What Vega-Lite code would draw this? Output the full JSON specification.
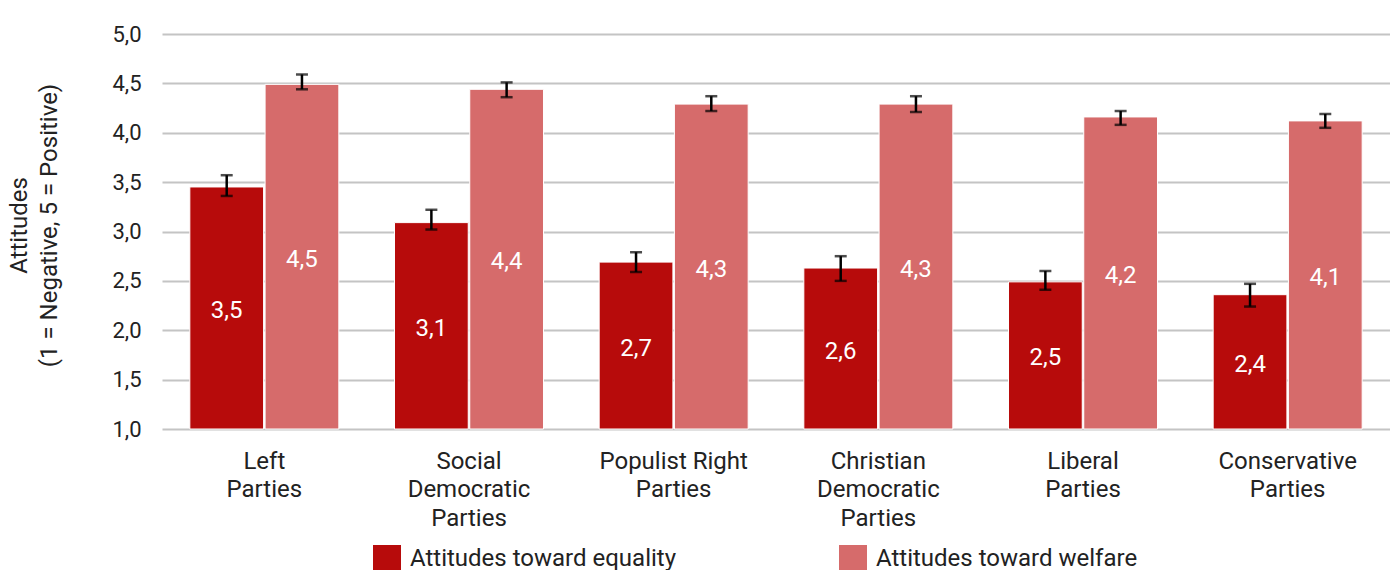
{
  "$schema": "https://vega.github.io/schema/vega-lite/v6.json",
  "width": 1228,
  "height": 395,
  "autosize": {"type": "none"},
  "padding": {"left": 162, "top": 34, "right": 0, "bottom": 141},
  "config": {
    "view": {"stroke": null},
    "font": "Roboto",
    "locale": {"number": {"decimal": ",", "thousands": ".", "grouping": [3], "currency": ["", "€"]}},
    "axis": {"labelFont": "Roboto", "titleFont": "Roboto", "labelColor": "#222", "titleColor": "#222", "titleFontWeight": "normal"},
    "legend": {"labelFont": "Roboto", "labelColor": "#222"}
  },
  "data": {
    "values": [
      {"party": "Left|Parties", "series": "Attitudes toward equality", "value": 3.451, "lo": 3.36, "hi": 3.57},
      {"party": "Left|Parties", "series": "Attitudes toward welfare", "value": 4.49, "lo": 4.44, "hi": 4.59},
      {"party": "Social|Democratic|Parties", "series": "Attitudes toward equality", "value": 3.09, "lo": 3.02, "hi": 3.22},
      {"party": "Social|Democratic|Parties", "series": "Attitudes toward welfare", "value": 4.44, "lo": 4.36, "hi": 4.51},
      {"party": "Populist Right|Parties", "series": "Attitudes toward equality", "value": 2.69, "lo": 2.59, "hi": 2.79},
      {"party": "Populist Right|Parties", "series": "Attitudes toward welfare", "value": 4.29, "lo": 4.22, "hi": 4.37},
      {"party": "Christian|Democratic|Parties", "series": "Attitudes toward equality", "value": 2.63, "lo": 2.50, "hi": 2.75},
      {"party": "Christian|Democratic|Parties", "series": "Attitudes toward welfare", "value": 4.29, "lo": 4.21, "hi": 4.37},
      {"party": "Liberal|Parties", "series": "Attitudes toward equality", "value": 2.49, "lo": 2.41, "hi": 2.60},
      {"party": "Liberal|Parties", "series": "Attitudes toward welfare", "value": 4.16, "lo": 4.08, "hi": 4.22},
      {"party": "Conservative|Parties", "series": "Attitudes toward equality", "value": 2.36, "lo": 2.24, "hi": 2.47},
      {"party": "Conservative|Parties", "series": "Attitudes toward welfare", "value": 4.12, "lo": 4.05, "hi": 4.19}
    ]
  },
  "encoding": {
    "x": {
      "field": "party", "type": "nominal", "sort": null,
      "scale": {"paddingInner": 0.272, "paddingOuter": 0.136},
      "axis": {
        "title": null, "labelAngle": 0, "domain": false, "ticks": false, "tickSize": 0,
        "labelExpr": "split(datum.label, '|')", "labelFontSize": 24, "labelLineHeight": 28.5,
        "labelPadding": 20, "labelLimit": 400
      }
    },
    "xOffset": {
      "field": "series", "type": "nominal",
      "scale": {"paddingInner": 0.02, "paddingOuter": 0}
    }
  },
  "layer": [
    {
      "mark": {"type": "bar", "stroke": "white", "strokeWidth": 1},
      "encoding": {
        "y": {
          "field": "value", "type": "quantitative",
          "scale": {"domain": [1, 5], "nice": false, "zero": false},
          "axis": {
            "title": ["Attitudes", "(1 = Negative, 5 = Positive)"],
            "titleFontSize": 24, "titleLineHeight": 30,
            "titleX": -155, "titleY": 191, "titleBaseline": "top",
            "values": [1, 1.5, 2, 2.5, 3, 3.5, 4, 4.5, 5],
            "format": ".1f", "labelFontSize": 22, "labelPadding": 21,
            "domain": false, "ticks": false, "tickSize": 0,
            "gridColor": "#c4c4c4", "gridWidth": 2
          }
        },
        "y2": {"datum": 1},
        "color": {
          "field": "series", "type": "nominal",
          "scale": {"domain": ["Attitudes toward equality", "Attitudes toward welfare"], "range": ["#b70b0b", "#d66b6b"]},
          "legend": {
            "title": null, "orient": "none", "direction": "horizontal",
            "legendX": 211, "legendY": 511, "padding": 0,
            "symbolType": "square", "symbolSize": 784, "symbolStrokeWidth": 0,
            "labelFontSize": 24, "labelOffset": 9, "labelLimit": 400,
            "columnPadding": 162
          }
        }
      }
    },
    {
      "transform": [{"calculate": "(datum.value + 1) / 2", "as": "mid"}],
      "mark": {"type": "text", "color": "white", "fontSize": 24, "baseline": "middle", "dy": 3},
      "encoding": {
        "y": {"field": "mid", "type": "quantitative"},
        "text": {"field": "value", "type": "quantitative", "format": ".1f"}
      }
    },
    {
      "mark": {"type": "rule", "color": "black", "strokeWidth": 2.5},
      "encoding": {
        "y": {"field": "lo", "type": "quantitative"},
        "y2": {"field": "hi"}
      }
    },
    {
      "mark": {"type": "tick", "color": "black", "thickness": 2.5, "size": 12, "orient": "horizontal"},
      "encoding": {"y": {"field": "lo", "type": "quantitative"}}
    },
    {
      "mark": {"type": "tick", "color": "black", "thickness": 2.5, "size": 12, "orient": "horizontal"},
      "encoding": {"y": {"field": "hi", "type": "quantitative"}}
    }
  ]
}
